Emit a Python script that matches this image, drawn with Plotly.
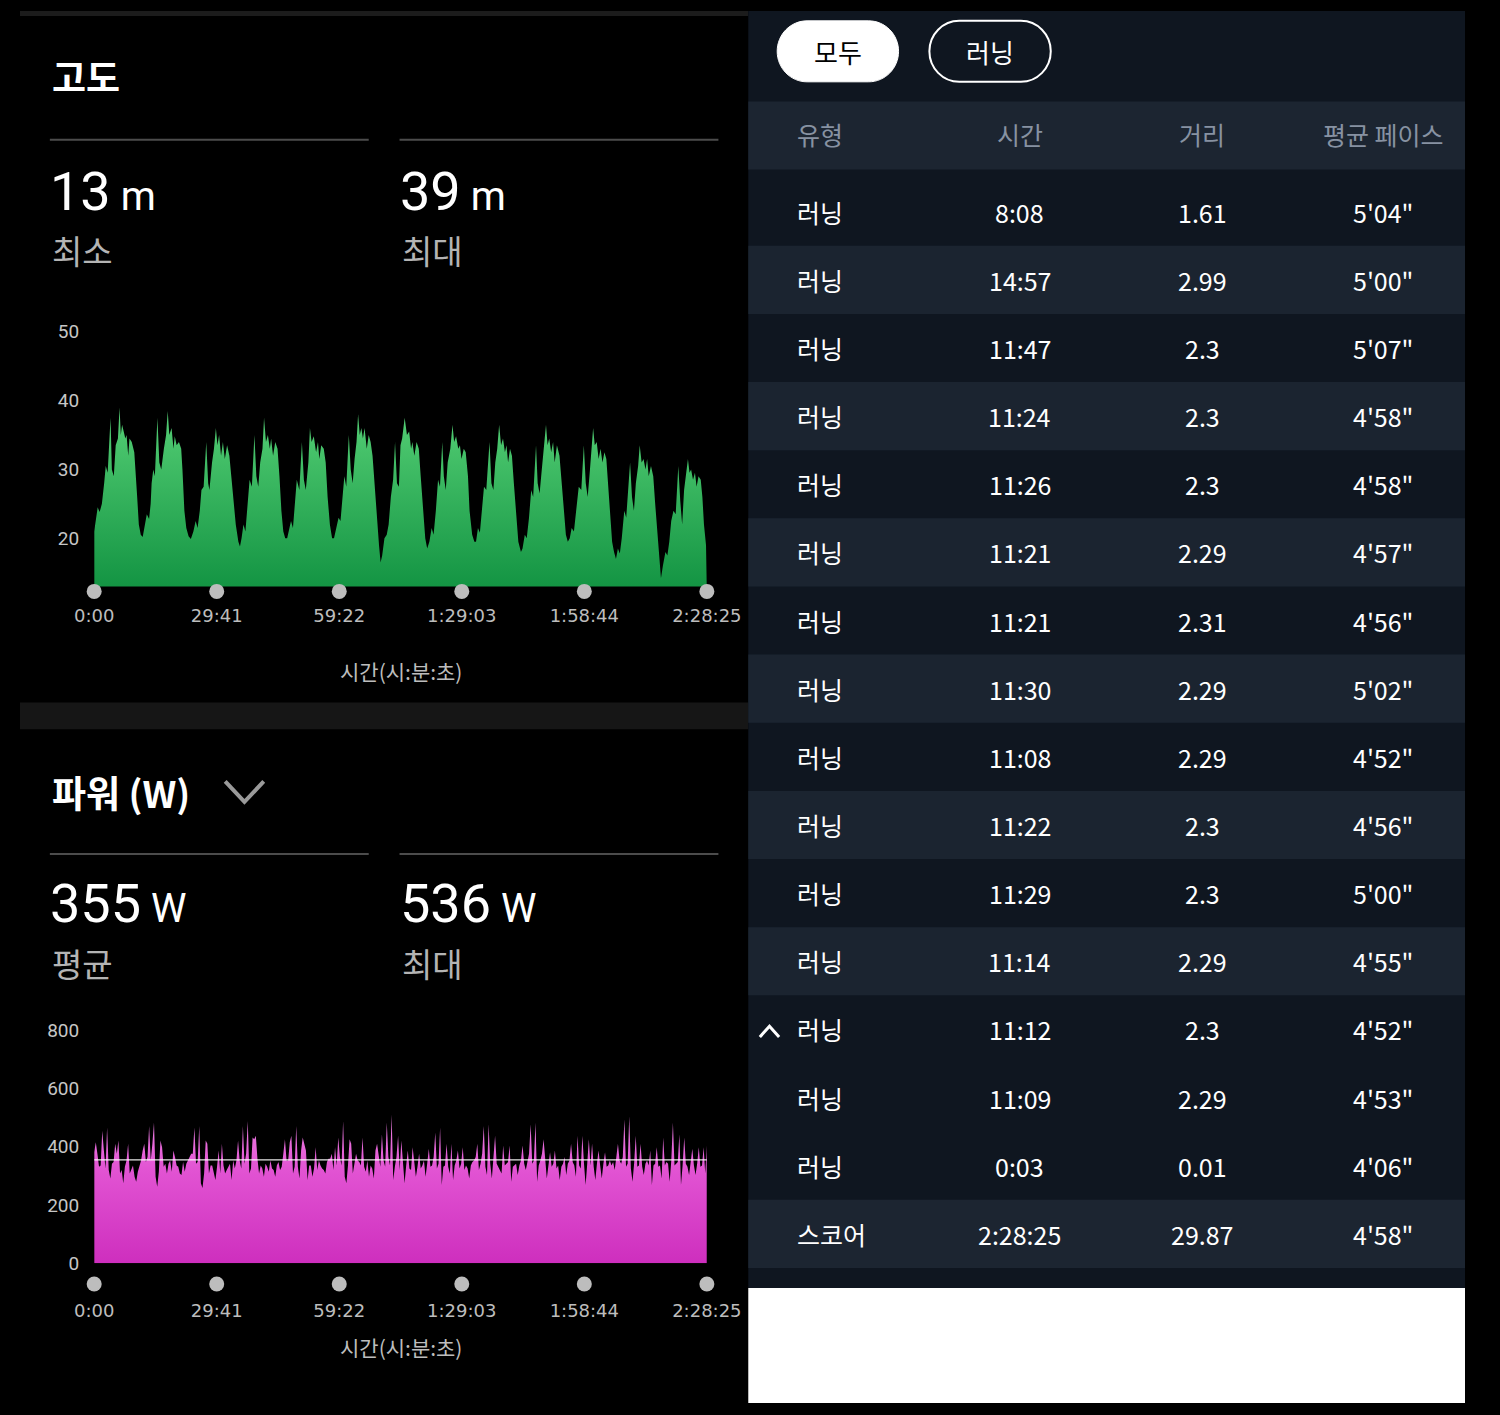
import numpy as np
import plotly.graph_objects as go

# ---------------- DATA ----------------
time_ticks_s = [0, 1781, 3562, 5343, 7124, 8905]
time_tick_labels = ["0:00", "29:41", "59:22", "1:29:03", "1:58:44", "2:28:25"]

elev_ticks = [20, 30, 40, 50]
power_ticks = [0, 200, 400, 600, 800]

elev_min_m = 13
elev_max_m = 39
power_avg_w = 355
power_max_w = 536

elev_time_s = [
    0, 19, 51, 79, 112, 145, 168, 196, 219, 238, 257, 285, 313, 345, 369, 387, 406, 429, 453, 471, 495, 513, 546, 583, 602, 625, 649, 677, 705, 733, 765, 798, 821,
    835, 859, 882, 919, 947, 975, 1013, 1045, 1069, 1092, 1125, 1153, 1171, 1199, 1232, 1265, 1283, 1311, 1339, 1372, 1405, 1442, 1475, 1503,
    1535, 1559, 1591, 1629, 1657, 1675, 1713, 1741, 1769, 1792, 1816, 1844, 1871, 1899, 1932, 1965, 1993, 2025, 2058, 2096, 2119, 2142, 2170, 2198,
    2226, 2259, 2292, 2329, 2357, 2385, 2413, 2446, 2469, 2497, 2525, 2553, 2572, 2600, 2632, 2665, 2693, 2721, 2749, 2777, 2805, 2833, 2861, 2889,
    2912, 2945, 2982, 3019, 3048, 3076, 3113, 3136, 3160, 3192, 3225, 3253, 3272, 3300, 3337, 3365, 3393, 3426, 3458, 3486, 3519, 3552, 3580,
    3612, 3636, 3664, 3701, 3729, 3757, 3785, 3813, 3836, 3860, 3883, 3906, 3930, 3962, 3990, 4018, 4046, 4079, 4112, 4140, 4163, 4186, 4219, 4252, 4280,
    4312, 4345, 4373, 4401, 4429, 4452, 4476, 4513, 4546, 4578, 4606, 4625, 4653, 4686, 4718, 4746, 4779, 4812, 4840, 4872, 4905, 4933,
    4966, 4998, 5026, 5059, 5082, 5110, 5138, 5176, 5208, 5232, 5260, 5292, 5316, 5339, 5372, 5400, 5433, 5456, 5494, 5526, 5550, 5578, 5606,
    5634, 5666, 5699, 5746, 5774, 5802, 5830, 5858, 5886, 5914, 5942, 5970, 5993, 6016, 6044, 6072, 6100, 6133, 6165, 6203, 6226, 6259, 6287,
    6320, 6352, 6380, 6422, 6446, 6474, 6506, 6539, 6567, 6590, 6614, 6642, 6670, 6693, 6726, 6763, 6800, 6828, 6856, 6884, 6912, 6940, 6973,
    7005, 7043, 7080, 7117, 7145, 7173, 7206, 7229, 7252, 7276, 7304, 7332, 7360, 7388, 7416, 7444, 7472, 7500, 7528, 7556, 7584, 7612, 7640, 7668,
    7705, 7733, 7766, 7789, 7817, 7845, 7873, 7906, 7929, 7957, 7985, 8013, 8037, 8060, 8093, 8126, 8154, 8182, 8210, 8238, 8266, 8303, 8331, 8359,
    8387, 8420, 8452, 8490, 8518, 8546, 8574, 8606, 8630, 8653, 8676, 8704, 8732, 8756, 8784, 8816, 8840, 8863, 8893, 8905,
]
elev_m = [
    21.0, 22.5, 24.5, 23.8, 25, 28, 30.5, 29.5, 33, 37.5, 30, 29, 33.5, 34.5, 39, 35, 36.5, 35.5, 34.5, 35, 32, 34.5, 34, 32.5, 30, 26, 22, 20.5, 20.2, 21.5, 23.5, 22.8, 25,
    28, 30, 29, 37.5, 31, 30, 33, 35, 38.5, 35, 36, 33, 34.8, 33.5, 34, 33, 30, 24, 21.5, 20.3, 19.9, 21, 22.5, 21.5,
    24, 27, 27.5, 34, 28, 27, 31, 33, 36, 33.5, 35, 32, 34, 31.5, 33.5, 32, 29, 25, 22, 19.5, 18.8, 20, 22, 21,
    24.5, 28.5, 27.5, 35, 29, 27.5, 31, 33, 37.5, 34, 35, 33, 34.5, 32, 34, 33, 29, 24, 21, 20, 20, 21.5, 22.5, 21.5,
    25, 28.5, 27, 34, 28.5, 27, 31, 36, 34, 34.8, 32.5, 34, 31.5, 33.5, 33, 31, 26, 22, 20, 20, 21.5, 23, 22.5,
    26.5, 29, 27.5, 35, 30, 28, 31.5, 34, 38, 35, 36, 34.5, 36, 33, 35, 34, 32, 27, 22, 19, 16.5, 17.5, 20, 20.5, 22,
    26, 28.5, 34, 28, 27.5, 33.5, 34.5, 37.5, 35, 35.5, 33, 34, 32, 34, 33, 29, 24, 20, 18.5, 19.5, 21.5, 20.5,
    24, 28.5, 27.5, 34, 29, 27, 31, 33, 36.5, 34, 34.8, 33, 33.5, 31.5, 33, 32.5, 29, 24, 20.5, 19.5, 19.5, 21.5, 20.8,
    24, 27.5, 27, 34, 28, 27, 31, 33, 36.5, 33.5, 34.5, 32.5, 33.5, 31, 33, 32, 28, 23.5, 19.5, 18, 18.5, 20.5, 20,
    23, 27, 26, 33.5, 28, 26.5, 30, 33, 36.5, 33.5, 34.5, 32.5, 34, 31, 33.5, 32, 28, 24, 20.5, 19.5, 20, 21.5, 21,
    24, 27.5, 27, 33.5, 28, 26, 30, 32.5, 36, 33.5, 34, 31.5, 33, 31, 32.5, 31.5, 27, 23, 19.5, 18, 17, 18.5, 17.8, 20,
    24, 23, 28, 31, 26, 24, 28, 30.5, 33.5, 31, 31.5, 30, 31.5, 29, 30.5, 29, 25, 21, 17.5, 14.2, 16, 18, 17.5, 19.5,
    22.5, 24, 23.5, 30.5, 25.5, 22, 27, 29.5, 31.5, 29.5, 30, 28.5, 29.5, 27.5, 29, 28.5, 26, 22, 19, 13,
]
assert len(elev_time_s) == len(elev_m)

power_w = [
    381, 415, 376, 331, 336, 455, 387, 325, 466, 320, 291, 342, 348, 410, 376, 421, 308, 320, 275, 331, 353, 410, 308, 325, 336, 297, 280, 314, 336, 353,
    387, 410, 348, 365, 471, 353, 410, 483, 297, 263, 314, 421, 398, 331, 342, 308, 342, 353, 314, 387, 365, 336, 331, 308, 303, 348, 314, 342, 353, 365,
    376, 376, 466, 342, 348, 471, 275, 258, 308, 421, 410, 308, 336, 336, 308, 286, 331, 387, 308, 410, 336, 308, 320, 331, 342, 286, 353, 325, 353, 421,
    353, 325, 471, 342, 376, 488, 308, 325, 432, 426, 438, 359, 308, 336, 325, 297, 342, 331, 314, 353, 325, 320, 297, 336, 348, 320, 331, 376, 426, 353,
    353, 415, 438, 308, 331, 471, 331, 291, 387, 432, 410, 387, 286, 336, 336, 297, 325, 398, 320, 353, 336, 325, 320, 308, 348, 359, 359, 376, 320, 398,
    336, 432, 365, 336, 488, 297, 275, 336, 426, 410, 308, 336, 376, 353, 348, 336, 432, 331, 314, 353, 297, 336, 325, 291, 387, 410, 376, 331, 443, 353,
    331, 483, 365, 336, 511,
    286, 331, 365, 438, 320, 421, 331, 275, 336, 387, 325, 320, 398, 336, 297, 331, 376, 325, 336, 353, 297, 342, 393, 331, 336, 365, 449, 325, 342, 466,
    269, 331, 336, 410, 331, 308, 410, 286, 336, 353, 387, 325, 342, 398, 320, 336, 325, 291, 336, 348, 353, 365, 410, 320, 342, 376, 471, 331, 303, 477,
    342, 291, 365, 438, 342, 331, 320, 308, 404, 336, 342, 348, 404, 280, 331, 336, 342, 303, 336, 353, 404, 342, 320, 348, 376, 477, 342, 353, 483, 280,
    336, 353, 376, 426, 348, 291, 336, 381, 331, 342, 387, 325, 336, 286, 331, 342, 365, 303, 342, 353, 410, 348, 336, 297, 438, 336, 325, 438, 342, 269,
    342, 426, 336, 410, 331, 286, 342, 387, 336, 291, 342, 381, 331, 336, 353, 336, 348, 320, 365, 410, 353, 342, 365, 494, 331, 342, 505, 325, 280, 342,
    438, 331, 336, 410, 331, 303, 342, 353, 336, 387, 269, 336, 342, 398, 331, 336, 291, 432, 336, 348, 342, 280, 353, 483, 336, 342, 348, 443, 269, 336,
    432, 342, 331, 303, 342, 393, 336, 303, 342, 398, 331, 336, 398, 308, 404,
]

table_header = ["유형", "시간", "거리", "평균 페이스"]
lap_type = ["러닝"] * 15
lap_time = ["8:08", "14:57", "11:47", "11:24", "11:26", "11:21", "11:21", "11:30",
            "11:08", "11:22", "11:29", "11:14", "11:12", "11:09", "0:03"]
lap_dist = ["1.61", "2.99", "2.3", "2.3", "2.3", "2.29", "2.31", "2.29",
            "2.29", "2.3", "2.3", "2.29", "2.3", "2.29", "0.01"]
lap_pace = ["5'04\"", "5'00\"", "5'07\"", "4'58\"", "4'58\"", "4'57\"", "4'56\"", "5'02\"",
            "4'52\"", "4'56\"", "5'00\"", "4'55\"", "4'52\"", "4'53\"", "4'06\""]
total_row = ["스코어", "2:28:25", "29.87", "4'58\""]
filter_buttons = ["모두", "러닝"]

# ---------------- LAYOUT HELPERS ----------------
W, H = 1500, 1415
def X(x): return x / W
def Y(y): return 1 - y / H

KR = "Noto Sans CJK KR, Noto Sans, sans-serif"
NUM = "Roboto, Noto Sans, sans-serif"
TICKX = "DejaVu Sans, Roboto, sans-serif"

power_t = np.linspace(time_ticks_s[0], time_ticks_s[-1], len(power_w))

fig = go.Figure()

# elevation area
fig.add_trace(go.Scatter(
    x=elev_time_s, y=elev_m, xaxis="x", yaxis="y", mode="lines",
    line=dict(width=0, color="#4fcb70"), fill="tozeroy",
    fillgradient=dict(type="vertical", colorscale=[[0, "#129342"], [1, "#55cf75"]],
                      start=elev_min_m, stop=elev_max_m),
    hoverinfo="skip", showlegend=False))

# power area
fig.add_trace(go.Scatter(
    x=power_t, y=power_w, xaxis="x2", yaxis="y2", mode="lines",
    line=dict(width=0, color="#e05ad2"), fill="tozeroy",
    fillgradient=dict(type="vertical",
                      colorscale=[[0, "#cd2dbd"], [0.65, "#e254d3"], [1, "#ec82e2"]],
                      start=0, stop=max(power_w)),
    hoverinfo="skip", showlegend=False))

# average line
fig.add_trace(go.Scatter(
    x=[time_ticks_s[0], time_ticks_s[-1]], y=[power_avg_w, power_avg_w],
    xaxis="x2", yaxis="y2", mode="lines",
    line=dict(width=1.3, color="rgba(255,255,255,0.9)"),
    hoverinfo="skip", showlegend=False))

# tick dots on thin helper axes just below each chart
for xa, ya in (("x", "y3"), ("x2", "y4")):
    fig.add_trace(go.Scatter(
        x=time_ticks_s, y=[0.5] * len(time_ticks_s), xaxis=xa, yaxis=ya, mode="markers",
        marker=dict(size=15, color="#bdbdbd"), cliponaxis=False,
        hoverinfo="skip", showlegend=False))

E_Y0, E_Y1, E_TOP, E_BOT = 13, 50, 326, 585
P_Y0, P_Y1, P_TOP, P_BOT = 0, 800, 1036, 1273

xdom = [X(77), X(713)]
def xaxis(anchor, standoff):
    return dict(domain=xdom, range=[time_ticks_s[0], time_ticks_s[-1]], anchor=anchor,
                showgrid=False, zeroline=False, showline=False, ticks="",
                tickvals=time_ticks_s, ticktext=time_tick_labels,
                tickfont=dict(family=TICKX, size=18, color="#bdbdbd"),
                ticklabelstandoff=standoff, fixedrange=True)
def yaxis(anchor, dom, rng, tv):
    return dict(domain=dom, range=rng, anchor=anchor, showgrid=False, zeroline=False,
                showline=False, ticks="", tickvals=tv,
                tickfont=dict(family=NUM, size=19, color="#c6c6c6"),
                ticklabelstandoff=14, fixedrange=True)
def helper_axis(anchor, center_px):
    return dict(domain=[Y(center_px + 10), Y(center_px - 10)], range=[0, 1], anchor=anchor,
                visible=False, fixedrange=True)

shapes = []
def rect(x0, y0, x1, y1, color):
    shapes.append(dict(type="rect", xref="paper", yref="paper", x0=X(x0), x1=X(x1),
                       y0=Y(y1), y1=Y(y0), fillcolor=color, line=dict(width=0), layer="below"))
def hline(x0, x1, y, color, w):
    shapes.append(dict(type="line", xref="paper", yref="paper", x0=X(x0), x1=X(x1),
                       y0=Y(y), y1=Y(y), line=dict(color=color, width=w)))
def polyline(pts, color, w):
    d = "M " + " L ".join(f"{X(a):.5f},{Y(b):.5f}" for a, b in pts)
    shapes.append(dict(type="path", xref="paper", yref="paper", path=d,
                       line=dict(color=color, width=w)))
def pill(x0, y0, x1, y1, fill, line_color, lw):
    r = (y1 - y0) / 2
    k = 0.5523 * r
    P = lambda a, b: f"{X(a):.5f},{Y(b):.5f}"
    d = (f"M {P(x0+r, y0)} L {P(x1-r, y0)} C {P(x1-r+k, y0)} {P(x1, y0+r-k)} {P(x1, y0+r)} "
         f"C {P(x1, y0+r+k)} {P(x1-r+k, y1)} {P(x1-r, y1)} L {P(x0+r, y1)} "
         f"C {P(x0+r-k, y1)} {P(x0, y0+r+k)} {P(x0, y0+r)} C {P(x0, y0+r-k)} {P(x0+r-k, y0)} {P(x0+r, y0)} Z")
    shapes.append(dict(type="path", xref="paper", yref="paper", path=d, fillcolor=fill,
                       line=dict(color=line_color, width=lw)))

# backgrounds
rect(0, 0, 756, 5, "#1c1c1c")
rect(0, 703, 756, 730, "#161616")
rect(756, 0, 1500, 1298, "#0f1620")
rect(756, 1298, 1500, 1415, "#ffffff")
rect(756, 92, 1500, 161, "#1c2531")
ROW0, ROWH = 204, 69.27
light_rows = [1, 3, 5, 7, 9, 11]
for i in light_rows:
    c = ROW0 + ROWH * i
    rect(756, c - ROWH / 2, 1500, c + ROWH / 2, "#1b2430")
sum_c = ROW0 + ROWH * len(lap_time)
rect(756, sum_c - ROWH / 2, 1500, sum_c + ROWH / 2, "#1c2531")

# dividers
for yy in (131, 857):
    hline(31, 362, yy, "#4c4c4c", 2)
    hline(394, 725, yy, "#4c4c4c", 2)

# chevrons
polyline([(213, 783), (233, 804), (253, 783)], "#9a9a9a", 4)
polyline([(768, 1043), (778, 1032), (788, 1043)], "#ffffff", 3)

# pills
pill(786, 10, 912, 72, "#ffffff", "#ffffff", 1)
pill(944, 10, 1070, 72, "rgba(0,0,0,0)", "#ffffff", 2)

ann = []
def txt(x, y, s, size, color, family=KR, xanchor="left"):
    ann.append(dict(xref="paper", yref="paper", x=X(x), y=Y(y), text=s, showarrow=False,
                    xanchor=xanchor, yanchor="middle",
                    font=dict(family=family, size=size, color=color)))

txt(31, 66, "<b>고도</b>", 37, "#ffffff")
txt(29, 183, f"{elev_min_m}<span style='font-size:40px'> m</span>", 54, "#ffffff", NUM)
txt(392, 183, f"{elev_max_m}<span style='font-size:40px'> m</span>", 54, "#ffffff", NUM)
txt(31, 243, "최소", 33, "#b4b4b4")
txt(394, 243, "최대", 33, "#b4b4b4")
txt(395, 671, "시간(시:분:초)", 21, "#bdbdbd", KR, "center")

txt(31, 794, "<b>파워 (W)</b>", 37, "#ffffff")
txt(29, 907, f"{power_avg_w}<span style='font-size:40px'> W</span>", 54, "#ffffff", NUM)
txt(392, 907, f"{power_max_w}<span style='font-size:40px'> W</span>", 54, "#ffffff", NUM)
txt(31, 968, "평균", 33, "#b4b4b4")
txt(394, 968, "최대", 33, "#b4b4b4")
txt(395, 1358, "시간(시:분:초)", 21, "#bdbdbd", KR, "center")

# pills text
txt(849, 41, filter_buttons[0], 26, "#000000", KR, "center")
txt(1007, 41, filter_buttons[1], 26, "#ffffff", KR, "center")

# table
COLX = [(805, "left"), (1038, "center"), (1227, "center"), (1415, "center")]
for (cx, anc), h in zip(COLX, table_header):
    txt(cx, 125, h, 25, "#8792a2", KR, anc)
for i, row in enumerate(zip(lap_type, lap_time, lap_dist, lap_pace)):
    cy = ROW0 + ROWH * i
    for (cx, anc), v in zip(COLX, row):
        txt(cx, cy, v, 25, "#ffffff", KR, anc)
for (cx, anc), v in zip(COLX, total_row):
    txt(cx, sum_c, v, 25, "#ffffff", KR, anc)

fig.update_layout(
    width=W, height=H, autosize=False, margin=dict(l=0, r=0, t=0, b=0, pad=0),
    paper_bgcolor="#000000", plot_bgcolor="rgba(0,0,0,0)",
    xaxis=xaxis("y", 17),
    yaxis=yaxis("x", [Y(E_BOT), Y(E_TOP)], [E_Y0, E_Y1], elev_ticks),
    xaxis2=xaxis("y2", 35),
    yaxis2=yaxis("x2", [Y(P_BOT), Y(P_TOP)], [P_Y0, P_Y1], power_ticks),
    yaxis3=helper_axis("x", 590),
    yaxis4=helper_axis("x2", 1294),
    shapes=shapes, annotations=ann, showlegend=False,
)

fig.write_html(
    "out.html",
    config={"responsive": False, "displayModeBar": False},
    post_script="document.body.style.margin='0';document.body.style.overflow='hidden';",
)
